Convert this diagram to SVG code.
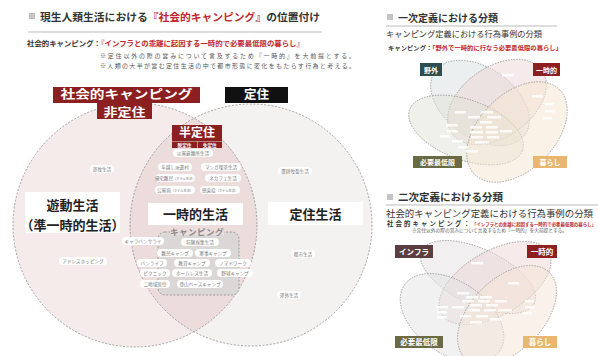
<svg xmlns="http://www.w3.org/2000/svg" width="598" height="356" viewBox="0 0 598 356">
<style>
text{font-family:"Noto Sans CJK JP","Noto Sans",sans-serif;}
.h{font-weight:700;fill:#333;}
.red{fill:#c0282d;font-weight:700;}
.note{fill:#555;}
.lbl{fill:#fff;font-weight:700;text-anchor:middle;}
.big{font-weight:700;fill:#222;text-anchor:middle;font-size:13px;}
.chip rect{fill:#fff;}
.chip text{fill:#777;font-size:4.6px;text-anchor:middle;}
.dash{fill:none;stroke:#8a8a8a;stroke-width:0.8;stroke-dasharray:2 1.6;}
.ell{stroke:#8a8a8a;stroke-width:0.7;stroke-dasharray:1.5 1.2;}
.vchip{fill:#fff;opacity:0.85;}
</style>

<!-- Header left -->
<g id="header-left">
<rect x="29" y="13" width="6" height="6" fill="#c4c4c4"/>
<text x="40" y="21" font-size="10.6" class="h" textLength="280" lengthAdjust="spacingAndGlyphs">現生人類生活における<tspan fill="#c0282d">『社会的キャンピング』</tspan>の位置付け</text>
<line x1="28" y1="32" x2="322" y2="32" stroke="#bbb" stroke-width="1"/>
<text x="27" y="46" font-size="7.4" class="h">社会的キャンピング：<tspan class="red">『インフラとの乖離に起因する一時的で必要最低限の暮らし』</tspan></text>
<text x="100" y="58" font-size="6" class="note" textLength="255" lengthAdjust="spacing">※定住以外の際の営みについて言及するため『一時的』を大前提とする。</text>
<text x="100" y="68" font-size="6" class="note" textLength="255" lengthAdjust="spacing">※人類の大半が営む定住生活の中で都市形態に変化をもたらす行為と考える。</text>
</g>

<!-- Main Venn -->
<g id="circle-nonsettled">
<circle cx="135" cy="225" r="122" fill="#f5ebeb"/>
</g>
<g id="circle-settled">
<circle cx="251" cy="225" r="121" fill="#f4f1f1"/>
</g>
<g id="lens-semisettled">
<path d="M194,118.2 A121,121 0 0 0 194,331.8 A122,122 0 0 0 194,118.2 Z" fill="#eddcdc"/>
</g>
<g id="connectors">
<circle cx="135" cy="225" r="122" class="dash"/>
<circle cx="251" cy="225" r="121" class="dash"/>
</g>

<g id="label-social-camping">
<rect x="53" y="87" width="147" height="16" fill="#8c1f1f"/>
<text x="126.5" y="98.5" font-size="12" class="lbl" textLength="132" lengthAdjust="spacingAndGlyphs">社会的キャンピング</text>
<rect x="97" y="103" width="55" height="16" fill="#8c1f1f"/>
<text x="124.5" y="116.5" font-size="12" class="lbl" textLength="42" lengthAdjust="spacingAndGlyphs">非定住</text>
</g>
<g id="label-settled">
<rect x="225" y="87" width="63" height="16" fill="#111"/>
<text x="256.5" y="99" font-size="12.5" class="lbl">定住</text>
</g>
<g id="label-semisettled">
<rect x="172" y="125" width="50" height="16" fill="#8c1f1f"/>
<text x="197" y="137" font-size="12" class="lbl">半定住</text>
<rect x="172" y="141.5" width="25" height="6.5" fill="#8c1f1f"/>
<rect x="197.6" y="141.5" width="24.4" height="6.5" fill="#8c1f1f"/>
<text x="184.5" y="146.6" font-size="4.6" class="lbl">脱定住</text>
<text x="209.8" y="146.6" font-size="4.6" class="lbl">失定住</text>
</g>

<g id="nomadic">
<rect x="25" y="192" width="95" height="41" fill="#fff"/>
<text x="72.5" y="209.5" class="big">遊動生活</text>
<text x="72.5" y="229.5" class="big" font-size="10.5">（準一時的生活）</text>
</g>
<g id="temporary">
<rect x="148" y="203" width="95" height="22" fill="#fff"/>
<text x="195.5" y="219" class="big">一時的生活</text>
</g>
<g id="settled-life">
<rect x="268" y="202" width="95" height="23" fill="#fff"/>
<text x="315.5" y="218.5" class="big">定住生活</text>
</g>

<g id="camping">
<rect x="158" y="232" width="81" height="63" rx="7" fill="#dbd7d7" stroke="#8a8a8a" stroke-width="0.8" stroke-dasharray="2 1.6"/>
<rect x="170" y="227" width="54" height="8" fill="#eddcdc"/>
<text x="197" y="235" font-size="8.5" font-weight="700" fill="#888" text-anchor="middle" letter-spacing="0.5">キャンピング</text>
</g>

<g id="chips" class="chip">
<g id="c-yuboku"><rect x="90" y="165" width="24" height="8" rx="4"/><text x="102" y="170.7">遊牧生活</text></g>
<g id="c-saigai"><rect x="173" y="149" width="40" height="8" rx="4"/><text x="193" y="154.7">災害避難所生活</text></g>
<g id="c-toshikoshi"><rect x="158" y="163" width="34" height="8" rx="4"/><text x="175" y="168.7">年越し派遣村</text></g>
<g id="c-manga"><rect x="201" y="163" width="40" height="8" rx="4"/><text x="221" y="168.7">マンガ喫茶生活</text></g>
<g id="c-kitaku"><rect x="155" y="174" width="40" height="8" rx="4"/><text x="175" y="179.7">帰宅難民<tspan font-size="3.2">（ホテル生活）</tspan></text></g>
<g id="c-nekafe"><rect x="205" y="174" width="36" height="8" rx="4"/><text x="223" y="179.7">ネカフェ生活</text></g>
<g id="c-kogai"><rect x="155" y="186" width="40" height="8" rx="4"/><text x="175" y="191.7">公害病<tspan font-size="3.2">（ホテル生活）</tspan></text></g>
<g id="c-kansen"><rect x="200" y="186" width="40" height="8" rx="4"/><text x="220" y="191.7">感染症<tspan font-size="3.2">（ホテル生活）</tspan></text></g>
<g id="c-noko"><rect x="278" y="167" width="34" height="8" rx="4"/><text x="295" y="172.7">農耕牧畜生活</text></g>
<g id="c-address"><rect x="59" y="257" width="48" height="8" rx="4"/><text x="83" y="262.7">アドレスホッピング</text></g>
<g id="c-toshi"><rect x="291" y="250" width="24" height="8" rx="4"/><text x="303" y="255.7">都市生活</text></g>
<g id="c-kogai2"><rect x="277" y="291" width="24" height="8" rx="4"/><text x="289" y="296.7">郊外生活</text></g>
<g id="c-caravan"><rect x="122" y="237" width="42" height="8" rx="4"/><text x="143" y="242.7">キャラバンサライ</text></g>
<g id="c-shuryo"><rect x="181" y="238" width="38" height="8" rx="4"/><text x="200" y="243.7">狩猟採集生活</text></g>
<g id="c-nanmin"><rect x="157" y="249" width="36" height="8" rx="4"/><text x="175" y="254.7">難民キャンプ</text></g>
<g id="c-gunji"><rect x="195" y="249" width="36" height="8" rx="4"/><text x="213" y="254.7">軍事キャンプ</text></g>
<g id="c-van"><rect x="137" y="259" width="30" height="8" rx="4"/><text x="152" y="264.7">バンライフ</text></g>
<g id="c-kyoiku"><rect x="174" y="259" width="36" height="8" rx="4"/><text x="192" y="264.7">教育キャンプ</text></g>
<g id="c-nomad"><rect x="215" y="259" width="36" height="8" rx="4"/><text x="233" y="264.7">ノマドワーク</text></g>
<g id="c-picnic"><rect x="140" y="269" width="30" height="8" rx="4"/><text x="155" y="274.7">ピクニック</text></g>
<g id="c-homeless"><rect x="172" y="269" width="40" height="8" rx="4"/><text x="192" y="274.7">ホームレス生活</text></g>
<g id="c-yakyu"><rect x="217" y="269" width="36" height="8" rx="4"/><text x="235" y="274.7">野球キャンプ</text></g>
<g id="c-nichiiki"><rect x="140" y="280" width="30" height="8" rx="4"/><text x="155" y="285.7">二地域居住</text></g>
<g id="c-tozan"><rect x="177" y="280" width="46" height="8" rx="4"/><text x="200" y="285.7">登山ベースキャンプ</text></g>
</g>

<!-- Right top -->
<g id="header-first">
<rect x="387" y="14" width="6" height="6" fill="#c4c4c4"/>
<text x="398" y="21.5" font-size="10" class="h" textLength="100" lengthAdjust="spacingAndGlyphs">一次定義における分類</text>
<line x1="386" y1="26" x2="557" y2="26" stroke="#bbb" stroke-width="1"/>
<text x="386" y="37" font-size="8.2" fill="#333" textLength="156" lengthAdjust="spacingAndGlyphs">キャンピング定義における行為事例の分類</text>
<text x="388" y="49.5" font-size="6.1" class="h" textLength="174" lengthAdjust="spacingAndGlyphs">キャンピング：<tspan class="red">「野外で一時的に行なう必要最低限の暮らし」</tspan></text>
</g>

<g id="venn1">
<ellipse cx="480" cy="103" rx="55" ry="35" transform="rotate(35 480 103)" fill="#d8dfe0" fill-opacity="0.5" class="ell"/>
<ellipse cx="497" cy="102" rx="55" ry="35" transform="rotate(-35 497 102)" fill="#eed6d6" fill-opacity="0.5" class="ell"/>
<ellipse cx="466" cy="130" rx="60" ry="30" transform="rotate(20 466 130)" fill="#e1e2d6" fill-opacity="0.5" class="ell"/>
<ellipse cx="517" cy="132" rx="60" ry="38" transform="rotate(-45 517 132)" fill="#f5e5d0" fill-opacity="0.5" class="ell"/>
<g id="venn1-chips">
<rect x="502" y="74" width="12" height="2.5" class="vchip"/>
<rect x="532" y="95" width="11" height="2.5" class="vchip"/>
<rect x="455" y="111" width="11" height="2.5" class="vchip"/>
<rect x="481" y="111" width="12" height="2.5" class="vchip"/>
<rect x="468" y="116" width="12" height="2.5" class="vchip"/>
<rect x="487" y="116" width="14" height="2.5" class="vchip"/>
<rect x="480" y="121" width="12" height="2.5" class="vchip"/>
<rect x="470" y="126" width="12" height="2.5" class="vchip"/>
<rect x="486" y="126" width="12" height="2.5" class="vchip"/>
<rect x="446" y="124" width="12" height="2.5" class="vchip"/>
<rect x="447" y="130" width="11" height="2.5" class="vchip"/>
<rect x="470" y="131" width="13" height="2.5" class="vchip"/>
<rect x="486" y="131" width="12" height="2.5" class="vchip"/>
<rect x="500" y="130" width="12" height="2.5" class="vchip"/>
<rect x="471" y="136" width="12" height="2.5" class="vchip"/>
<rect x="487" y="136" width="12" height="2.5" class="vchip"/>
<rect x="440" y="135" width="10" height="2.5" class="vchip"/>
<rect x="452" y="140" width="11" height="2.5" class="vchip"/>
<rect x="475" y="141" width="14" height="2.5" class="vchip"/>
<rect x="458" y="146" width="10" height="2.5" class="vchip"/>
<rect x="466" y="150" width="12" height="2.5" class="vchip"/>
<rect x="545" y="103" width="9" height="2.5" class="vchip"/>
<rect x="545" y="110" width="10" height="2.5" class="vchip"/>
<rect x="543" y="117" width="9" height="2.5" class="vchip"/>
</g>
<g id="v1-outdoor"><rect x="420" y="63" width="22" height="13" fill="#2e4d4e"/><text x="431" y="72.5" font-size="7" class="lbl">野外</text></g>
<g id="v1-temp"><rect x="533" y="63" width="27" height="13" fill="#8c1f1f"/><text x="546.5" y="72.5" font-size="7" class="lbl">一時的</text></g>
<g id="v1-min"><rect x="413" y="156" width="49" height="12" fill="#6b6a45"/><text x="437.5" y="165" font-size="7" class="lbl">必要最低限</text></g>
<g id="v1-life"><rect x="533" y="156" width="34" height="12" fill="#e8b66f"/><text x="550" y="165" font-size="7" class="lbl">暮らし</text></g>
</g>

<!-- Right bottom -->
<g id="header-second">
<rect x="387" y="194" width="6" height="6" fill="#c4c4c4"/>
<text x="398" y="201" font-size="10.5" class="h" textLength="105" lengthAdjust="spacingAndGlyphs">二次定義における分類</text>
<line x1="386" y1="205" x2="598" y2="205" stroke="#bbb" stroke-width="1"/>
<text x="386" y="217" font-size="9.4" fill="#333" textLength="207" lengthAdjust="spacingAndGlyphs">社会的キャンピング定義における行為事例の分類</text>
<text x="387" y="226" font-size="6.4" class="h" textLength="83" lengthAdjust="spacing">社会的キャンピング：</text>
<text x="472" y="226" font-size="4.4" class="red" textLength="124" lengthAdjust="spacingAndGlyphs">「インフラとの乖離に起因する一時的で必要最低限の暮らし」</text>
<text x="412" y="232" font-size="4.6" class="note" textLength="155" lengthAdjust="spacingAndGlyphs">※定住以外の際の営みについて言及するため『一時的』を大前提とする。</text>
</g>

<g id="venn2">
<ellipse cx="478" cy="277" rx="62" ry="28" transform="rotate(25 478 277)" fill="#e4e0e0" fill-opacity="0.5" class="ell"/>
<ellipse cx="495" cy="283" rx="62" ry="32" transform="rotate(-30 495 283)" fill="#eed6d6" fill-opacity="0.5" class="ell"/>
<ellipse cx="452" cy="318" rx="58" ry="36" transform="rotate(35 452 318)" fill="#e4e3e3" fill-opacity="0.5" class="ell"/>
<ellipse cx="507" cy="315" rx="60" ry="36" transform="rotate(-45 507 315)" fill="#f5e6d5" fill-opacity="0.5" class="ell"/>
<g id="venn2-chips">
<rect x="471" y="262" width="12" height="2.5" class="vchip"/>
<rect x="508" y="282" width="11" height="2.5" class="vchip"/>
<rect x="457" y="292" width="12" height="2.5" class="vchip"/>
<rect x="466" y="296" width="12" height="2.5" class="vchip"/>
<rect x="480" y="296" width="12" height="2.5" class="vchip"/>
<rect x="462" y="300" width="12" height="2.5" class="vchip"/>
<rect x="478" y="300" width="12" height="2.5" class="vchip"/>
<rect x="495" y="300" width="12" height="2.5" class="vchip"/>
<rect x="470" y="304" width="12" height="2.5" class="vchip"/>
<rect x="486" y="304" width="12" height="2.5" class="vchip"/>
<rect x="436" y="306" width="12" height="2.5" class="vchip"/>
<rect x="452" y="306" width="12" height="2.5" class="vchip"/>
<rect x="468" y="309" width="12" height="2.5" class="vchip"/>
<rect x="484" y="309" width="12" height="2.5" class="vchip"/>
<rect x="498" y="309" width="14" height="2.5" class="vchip"/>
<rect x="437" y="311" width="10" height="2.5" class="vchip"/>
<rect x="437" y="316" width="10" height="2.5" class="vchip"/>
<rect x="460" y="315" width="11" height="2.5" class="vchip"/>
<rect x="476" y="315" width="12" height="2.5" class="vchip"/>
<rect x="490" y="318" width="12" height="2.5" class="vchip"/>
<rect x="470" y="321" width="12" height="2.5" class="vchip"/>
<rect x="525" y="300" width="9" height="2.5" class="vchip"/>
<rect x="525" y="306" width="10" height="2.5" class="vchip"/>
<rect x="523" y="312" width="9" height="2.5" class="vchip"/>
</g>
<g id="v2-infra"><rect x="395" y="245" width="38" height="13" fill="#5d3e40"/><text x="414" y="254.5" font-size="7.5" class="lbl">インフラ</text></g>
<g id="v2-temp"><rect x="527" y="245" width="30" height="13" fill="#8c1f1f"/><text x="542" y="254.5" font-size="7.5" class="lbl">一時的</text></g>
<g id="v2-min"><rect x="395" y="336" width="48" height="12" fill="#6b6a45"/><text x="419" y="345" font-size="7.5" class="lbl">必要最低限</text></g>
<g id="v2-life"><rect x="523" y="336" width="34" height="12" fill="#e8b66f"/><text x="540" y="345" font-size="7.5" class="lbl">暮らし</text></g>
</g>
</svg>
